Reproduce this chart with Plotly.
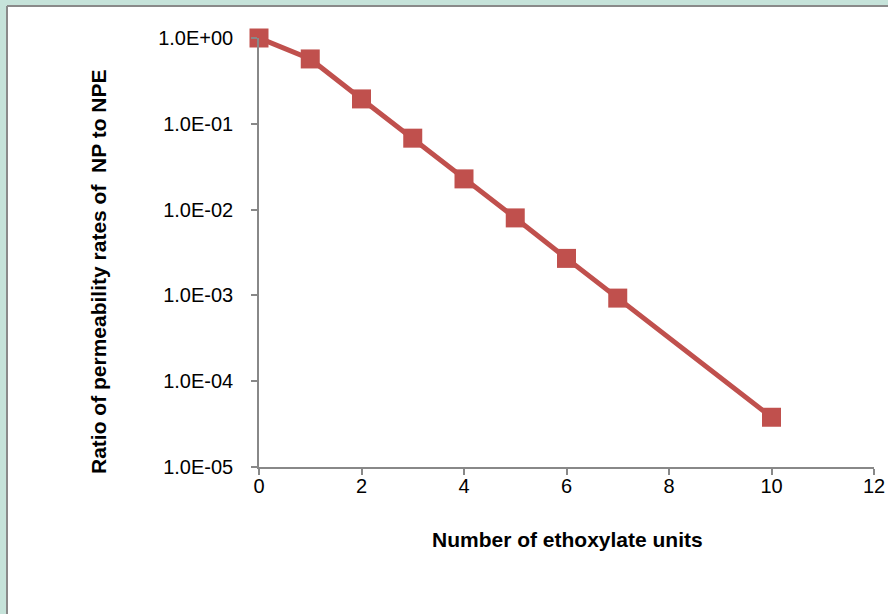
import plotly.graph_objects as go

x_units = [0, 1, 2, 3, 4, 5, 6, 7, 10]
ratio = [1.0, 0.57, 0.195, 0.068, 0.0228, 0.0080, 0.0027, 0.00093, 0.000038]
y_tickvals = [1e0, 1e-1, 1e-2, 1e-3, 1e-4, 1e-5]
y_ticktext = ["1.0E+00", "1.0E-01", "1.0E-02", "1.0E-03", "1.0E-04", "1.0E-05"]
x_tickvals = [0, 2, 4, 6, 8, 10, 12]

W, H = 888, 614
L, R, T, B = 259, 14, 38, 147
pw, ph = W - L - R, H - T - B

def px(v):
    return (v - L) / pw

def py(v):
    return (H - B - v) / ph

FONT = "Liberation Sans"
red = "#c0504d"

fig = go.Figure()
fig.add_trace(go.Scatter(
    x=x_units, y=ratio, mode="lines+markers",
    line=dict(color=red, width=5),
    marker=dict(symbol="square", size=19, color=red),
    cliponaxis=False, showlegend=False,
))

fig.update_layout(
    width=W, height=H,
    margin=dict(l=L, r=R, t=T, b=B, autoexpand=False),
    paper_bgcolor="#c6e3da",
    plot_bgcolor="rgba(0,0,0,0)",
    font=dict(family=FONT, size=20, color="#000"),
    xaxis=dict(
        range=[0, 12], tickvals=x_tickvals, showgrid=False, zeroline=False,
        showline=True, linecolor="#888", linewidth=1.5, automargin=False,
        ticks="outside", ticklen=6, tickcolor="#888", tickwidth=1.5,
        tickfont=dict(size=20, family=FONT), ticklabelstandoff=-6,
    ),
    yaxis=dict(
        type="log", range=[-5, 0], tickvals=y_tickvals, ticktext=y_ticktext,
        showgrid=False, zeroline=False, automargin=False,
        showline=True, linecolor="#888", linewidth=1.5,
        ticks="outside", ticklen=6, tickcolor="#888", tickwidth=1.5,
        tickfont=dict(size=20, family=FONT), ticklabelstandoff=14,
    ),
    shapes=[
        dict(type="rect", xref="paper", yref="paper", layer="below",
             x0=px(8), x1=px(W), y0=py(H), y1=py(6),
             fillcolor="white", line=dict(width=0)),
        dict(type="line", xref="paper", yref="paper", layer="below",
             x0=px(7), x1=px(W), y0=py(6), y1=py(6),
             line=dict(color="#8a8a8a", width=2)),
        dict(type="line", xref="paper", yref="paper", layer="below",
             x0=px(7), x1=px(7), y0=py(6), y1=py(H),
             line=dict(color="#8a8a8a", width=2)),
    ],
    annotations=[
        dict(text="<b>Number of ethoxylate units</b>", xref="paper", yref="paper",
             x=px(567), y=py(539), xanchor="center", yanchor="middle", showarrow=False,
             font=dict(size=21, family=FONT)),
        dict(text="<b>Ratio of permeability rates of  NP to NPE</b>", xref="paper", yref="paper",
             x=px(98), y=py(272), xanchor="center", yanchor="middle", showarrow=False, textangle=-90,
             font=dict(size=21, family=FONT)),
    ],
)

fig.write_html("out.html")
